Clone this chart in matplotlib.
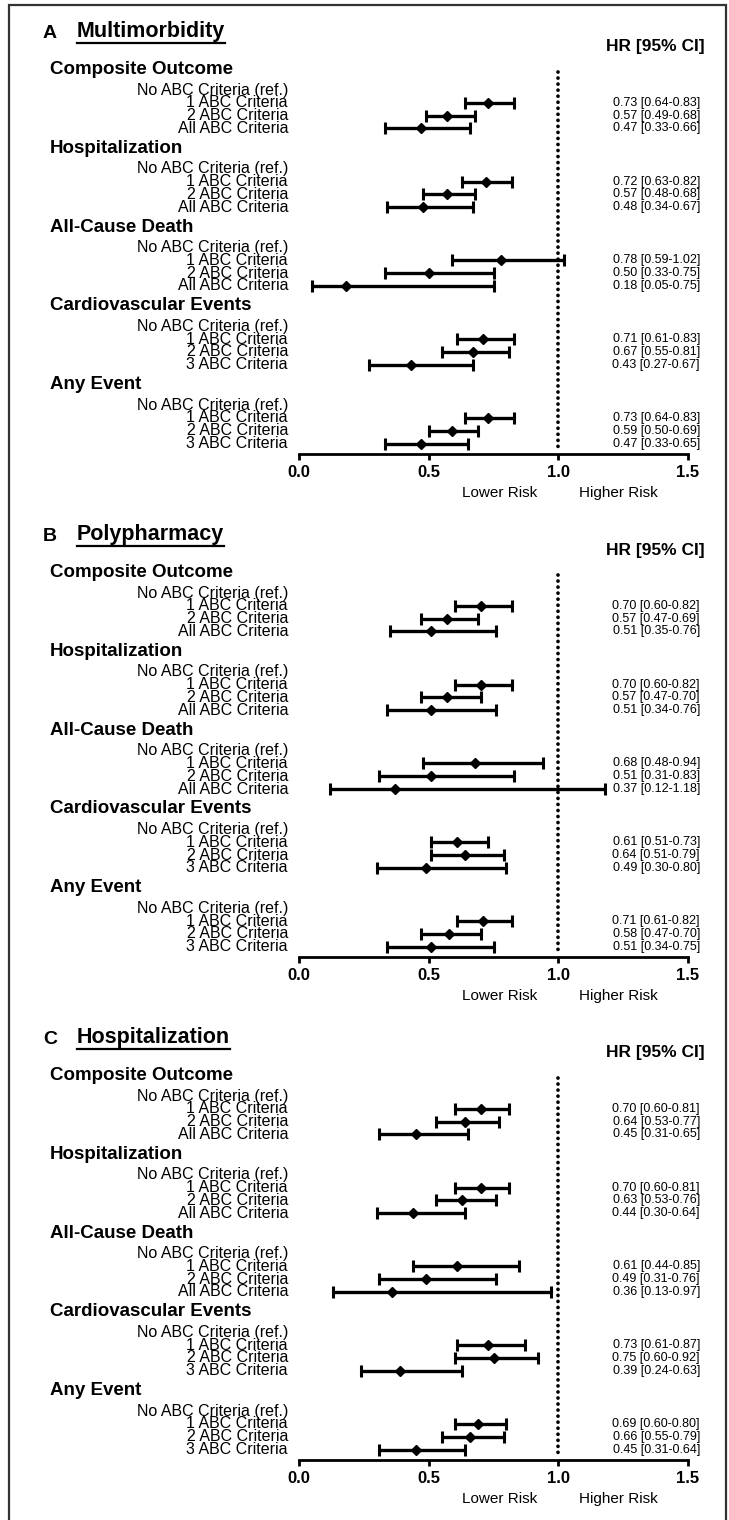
import matplotlib
matplotlib.use('Agg')
import matplotlib.pyplot as plt
import matplotlib.transforms as mtransforms
from matplotlib.lines import Line2D
from matplotlib.patches import Rectangle
import numpy as np

plt.rcParams['font.family'] = ['Liberation Sans', 'DejaVu Sans']

# --- data ---
panel_letters = ['A', 'B', 'C']
panel_titles = ['Multimorbidity', 'Polypharmacy', 'Hospitalization']
outcomes = ['Composite Outcome', 'Hospitalization', 'All-Cause Death',
            'Cardiovascular Events', 'Any Event']
last_label = ['All ABC Criteria', 'All ABC Criteria', 'All ABC Criteria',
              '3 ABC Criteria', '3 ABC Criteria']

# HR, lower CI, upper CI for 1 / 2 / all ABC criteria, per outcome
hr_multi = [[0.73, 0.57, 0.47], [0.72, 0.57, 0.48], [0.78, 0.50, 0.18],
            [0.71, 0.67, 0.43], [0.73, 0.59, 0.47]]
lo_multi = [[0.64, 0.49, 0.33], [0.63, 0.48, 0.34], [0.59, 0.33, 0.05],
            [0.61, 0.55, 0.27], [0.64, 0.50, 0.33]]
hi_multi = [[0.83, 0.68, 0.66], [0.82, 0.68, 0.67], [1.02, 0.75, 0.75],
            [0.83, 0.81, 0.67], [0.83, 0.69, 0.65]]

hr_poly = [[0.70, 0.57, 0.51], [0.70, 0.57, 0.51], [0.68, 0.51, 0.37],
           [0.61, 0.64, 0.49], [0.71, 0.58, 0.51]]
lo_poly = [[0.60, 0.47, 0.35], [0.60, 0.47, 0.34], [0.48, 0.31, 0.12],
           [0.51, 0.51, 0.30], [0.61, 0.47, 0.34]]
hi_poly = [[0.82, 0.69, 0.76], [0.82, 0.70, 0.76], [0.94, 0.83, 1.18],
           [0.73, 0.79, 0.80], [0.82, 0.70, 0.75]]

hr_hosp = [[0.70, 0.64, 0.45], [0.70, 0.63, 0.44], [0.61, 0.49, 0.36],
           [0.73, 0.75, 0.39], [0.69, 0.66, 0.45]]
lo_hosp = [[0.60, 0.53, 0.31], [0.60, 0.53, 0.30], [0.44, 0.31, 0.13],
           [0.61, 0.60, 0.24], [0.60, 0.55, 0.31]]
hi_hosp = [[0.81, 0.77, 0.65], [0.81, 0.76, 0.64], [0.85, 0.76, 0.97],
           [0.87, 0.92, 0.63], [0.80, 0.79, 0.64]]

panels = [(hr_multi, lo_multi, hi_multi),
          (hr_poly, lo_poly, hi_poly),
          (hr_hosp, lo_hosp, hi_hosp)]

ticks = [0.0, 0.5, 1.0, 1.5]

# --- layout (pixels) ---
W, H = 729, 1520
panel_step = 503
ax_top, ax_bottom = 20, 454
row0, row_step, block_step, head_off = 90, 12.8, 78.8, 20.5

fig = plt.figure(figsize=(W / 100, H / 100), dpi=100)

# frame around the whole figure
fig.add_artist(Rectangle((9 / W, -0.01), 717 / W, 1.01 - 5 / H, transform=fig.transFigure,
                         fill=False, lw=1.6, edgecolor='#333333'))

underlines = []
for k, (hr, lo, hi) in enumerate(panels):
    off = k * panel_step
    ax = fig.add_axes([299 / W, 1 - (ax_bottom + off) / H, 389 / W, (ax_bottom - ax_top) / H])
    ax.set_xlim(0, 1.5)
    ax.set_ylim(ax_bottom, ax_top)
    for s in ['top', 'right', 'left']:
        ax.spines[s].set_visible(False)
    ax.spines['bottom'].set_linewidth(2)
    ax.set_yticks([])
    ax.set_xticks(ticks)
    ax.set_xticklabels([f'{t:.1f}' for t in ticks], fontsize=12, fontweight='bold')
    ax.tick_params(axis='x', direction='out', length=4, width=2, pad=4)
    ax.patch.set_visible(False)

    # reference line at HR = 1
    ax.plot([1.0, 1.0], [72, ax_bottom - 3], color='black', lw=2.7,
            linestyle=(0, (0.01, 1.6)), dash_capstyle='round', zorder=1)

    tlab = mtransforms.blended_transform_factory(fig.transFigure, ax.transData)
    for b, name in enumerate(outcomes):
        y0 = row0 + b * block_step
        ax.text(50 / W, y0 - head_off, name, transform=tlab, ha='left', va='center',
                fontsize=13.5, fontweight='bold')
        labels = ['No ABC Criteria (ref.)', '1 ABC Criteria', '2 ABC Criteria', last_label[b]]
        for r, lab in enumerate(labels):
            ax.text(288 / W, y0 + r * row_step, lab, transform=tlab, ha='right',
                    va='center', fontsize=11.5)
        ys = y0 + row_step * np.arange(1, 4)
        h = np.array(hr[b])
        l = np.array(lo[b])
        u = np.array(hi[b])
        ax.errorbar(h, ys, xerr=[h - l, u - h], fmt='D', ms=5.5, color='black',
                    elinewidth=2.4, capsize=4.3, capthick=2.2, zorder=3)
        for j in range(3):
            ax.text(700 / W, ys[j], f'{h[j]:.2f} [{l[j]:.2f}-{u[j]:.2f}]', transform=tlab,
                    ha='right', va='center', fontsize=9)

    # panel heading
    ax.text(43 / W, 33, panel_letters[k], transform=tlab, ha='left', va='center',
            fontsize=14, fontweight='bold')
    t = ax.text(77 / W, 31, panel_titles[k], transform=tlab, ha='left', va='center',
                fontsize=15.5, fontweight='bold')
    underlines.append(t)
    ax.text(705 / W, 47, 'HR [95% CI]', transform=tlab, ha='right', va='center',
            fontsize=12.5, fontweight='bold')

    # risk direction labels
    ax.text(0.92, ax_bottom + 39, 'Lower Risk', ha='right', va='center', fontsize=11,
            clip_on=False)
    ax.text(1.08, ax_bottom + 39, 'Higher Risk', ha='left', va='center', fontsize=11,
            clip_on=False)

# underline the panel titles
fig.canvas.draw()
inv = fig.transFigure.inverted()
for t in underlines:
    bb = t.get_window_extent()
    (x0, y0), (x1, _) = inv.transform([[bb.x0, bb.y0 - 1], [bb.x1, bb.y0]])
    fig.add_artist(Line2D([x0, x1], [y0, y0], transform=fig.transFigure,
                          color='black', lw=1.6))

fig.savefig('out.png', dpi=100)
